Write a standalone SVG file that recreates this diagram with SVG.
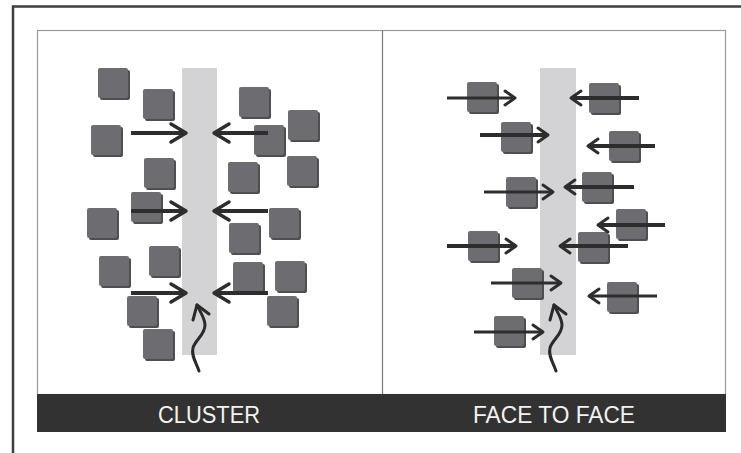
<svg xmlns="http://www.w3.org/2000/svg" xmlns:xlink="http://www.w3.org/1999/xlink" width="741" height="453" viewBox="0 0 741 453">
  <style>
    .frame { fill: none; stroke: #3f3f3f; stroke-width: 2.5; }
    .panel { fill: #ffffff; stroke: #9a9a9a; stroke-width: 1.2; }
    .strip { fill: #d3d3d5; }
    .bar { fill: #333233; }
    .label { font-family: "Liberation Sans", Arial, sans-serif; font-size: 24px; fill: #f2f2f2; text-anchor: middle; }
    .arr { fill: none; stroke: #2e2d2e; stroke-linecap: butt; }
    .big { stroke-width: 4; marker-end: url(#headBig); }
    .thick { stroke-width: 4; marker-end: url(#headSmall); }
    .thin { stroke-width: 3; marker-end: url(#headSmall); }
    .wave { fill: none; stroke: #2a2a2a; stroke-width: 3; stroke-linecap: round; stroke-linejoin: round; }
  </style>
  <defs>
    <!-- block with a darker drop edge on right and bottom -->
    <g id="sq">
      <rect x="2" y="2" width="30" height="30" rx="2" fill="#4f4f51"/>
      <rect x="0" y="0" width="30" height="30" rx="2" fill="#6d6d71"/>
    </g>
    <marker id="headBig" markerUnits="userSpaceOnUse" viewBox="-18 -11 21 22" refX="0" refY="0" markerWidth="21" markerHeight="22" orient="auto" overflow="visible">
      <path d="M-15,-9 L0,0 L-15,9" fill="none" stroke="#2e2d2e" stroke-width="3.5" stroke-linecap="round" stroke-linejoin="round"/>
    </marker>
    <marker id="headSmall" markerUnits="userSpaceOnUse" viewBox="-14 -9 17 18" refX="0" refY="0" markerWidth="17" markerHeight="18" orient="auto" overflow="visible">
      <path d="M-10,-7 L0,0 L-10,7" fill="none" stroke="#2e2d2e" stroke-width="3" stroke-linecap="round" stroke-linejoin="round"/>
    </marker>
  </defs>

  <rect width="741" height="453" fill="#ffffff"/>

  <!-- outer page frame (left and top edges) -->
  <path class="frame" d="M13,453 L13,6.5 L741,6.5"/>

  <!-- two panels -->
  <g id="panels">
    <rect class="panel" x="37.5" y="30.5" width="688" height="364"/>
    <line x1="382.5" y1="30.5" x2="382.5" y2="394" stroke="#7a7a7a" stroke-width="1.2"/>
    <rect class="bar" x="37" y="394" width="689" height="38"/>
  </g>

  <g id="label-cluster"><text class="label" x="209" y="423" textLength="102" lengthAdjust="spacingAndGlyphs">CLUSTER</text></g>
  <g id="label-face"><text class="label" x="554" y="423" textLength="162" lengthAdjust="spacingAndGlyphs">FACE TO FACE</text></g>

  <!-- central corridors -->
  <g id="corridor-left"><rect class="strip" x="182" y="68" width="35" height="287"/></g>
  <g id="corridor-right"><rect class="strip" x="540" y="68" width="36" height="287"/></g>

  <!-- cluster blocks -->
  <g id="cluster-blocks">
    <g id="c1"><use xlink:href="#sq" x="98" y="68"/></g>
    <g id="c2"><use xlink:href="#sq" x="143" y="89"/></g>
    <g id="c3"><use xlink:href="#sq" x="91" y="125"/></g>
    <g id="c4"><use xlink:href="#sq" x="239" y="87"/></g>
    <g id="c5"><use xlink:href="#sq" x="288" y="110"/></g>
    <g id="c6"><use xlink:href="#sq" x="254" y="125"/></g>
    <g id="c7"><use xlink:href="#sq" x="144" y="158"/></g>
    <g id="c8"><use xlink:href="#sq" x="228" y="162"/></g>
    <g id="c9"><use xlink:href="#sq" x="287" y="156"/></g>
    <g id="c10"><use xlink:href="#sq" x="131" y="192"/></g>
    <g id="c11"><use xlink:href="#sq" x="87" y="208"/></g>
    <g id="c12"><use xlink:href="#sq" x="269" y="208"/></g>
    <g id="c13"><use xlink:href="#sq" x="229" y="223"/></g>
    <g id="c14"><use xlink:href="#sq" x="149" y="246"/></g>
    <g id="c15"><use xlink:href="#sq" x="99" y="256"/></g>
    <g id="c16"><use xlink:href="#sq" x="233" y="262"/></g>
    <g id="c17"><use xlink:href="#sq" x="275" y="261"/></g>
    <g id="c18"><use xlink:href="#sq" x="127" y="296"/></g>
    <g id="c19"><use xlink:href="#sq" x="267" y="296"/></g>
    <g id="c20"><use xlink:href="#sq" x="143" y="329"/></g>
  </g>

  <!-- face-to-face blocks -->
  <g id="face-blocks">
    <g id="f1"><use xlink:href="#sq" x="467" y="82"/></g>
    <g id="f2"><use xlink:href="#sq" x="589" y="83"/></g>
    <g id="f3"><use xlink:href="#sq" x="501" y="122"/></g>
    <g id="f4"><use xlink:href="#sq" x="609" y="131"/></g>
    <g id="f5"><use xlink:href="#sq" x="506" y="177"/></g>
    <g id="f6"><use xlink:href="#sq" x="582" y="172"/></g>
    <g id="f7"><use xlink:href="#sq" x="616" y="209"/></g>
    <g id="f8"><use xlink:href="#sq" x="468" y="231"/></g>
    <g id="f9"><use xlink:href="#sq" x="578" y="232"/></g>
    <g id="f10"><use xlink:href="#sq" x="512" y="268"/></g>
    <g id="f11"><use xlink:href="#sq" x="607" y="282"/></g>
    <g id="f12"><use xlink:href="#sq" x="494" y="316"/></g>
  </g>

  <!-- movement arrows -->
  <g id="connectors">
    <path class="arr big" d="M131,133 H186"/>
    <path class="arr big" d="M268,133 H214"/>
    <path class="arr big" d="M131,211 H186"/>
    <path class="arr big" d="M268,211 H214"/>
    <path class="arr big" d="M131,293 H186"/>
    <path class="arr big" d="M268,293 H214"/>

    <path class="arr thin" d="M447,98 H515"/>
    <path class="arr thick" d="M639,98 H571"/>
    <path class="arr thick" d="M480,135 H548"/>
    <path class="arr thick" d="M655,146 H588"/>
    <path class="arr thin" d="M484,192 H553"/>
    <path class="arr thick" d="M634,187 H565"/>
    <path class="arr thick" d="M665,225 H598"/>
    <path class="arr thick" d="M447,246 H516"/>
    <path class="arr thick" d="M628,246 H560"/>
    <path class="arr thin" d="M491,283 H561"/>
    <path class="arr thin" d="M657,296 H589"/>
    <path class="arr thin" d="M474,332 H543"/>

    <g id="wave-left">
      <path class="wave" d="M199,371 C196,362 191,356 193,348 C195,340 205,335 205,325 C205,318 200,312 197,305"/>
      <path class="wave" d="M193,320 L197,305 L209,314"/>
    </g>
    <g id="wave-right" transform="translate(357,0)">
      <path class="wave" d="M199,371 C196,362 191,356 193,348 C195,340 205,335 205,325 C205,318 200,312 197,305"/>
      <path class="wave" d="M193,320 L197,305 L209,314"/>
    </g>
  </g>
</svg>
